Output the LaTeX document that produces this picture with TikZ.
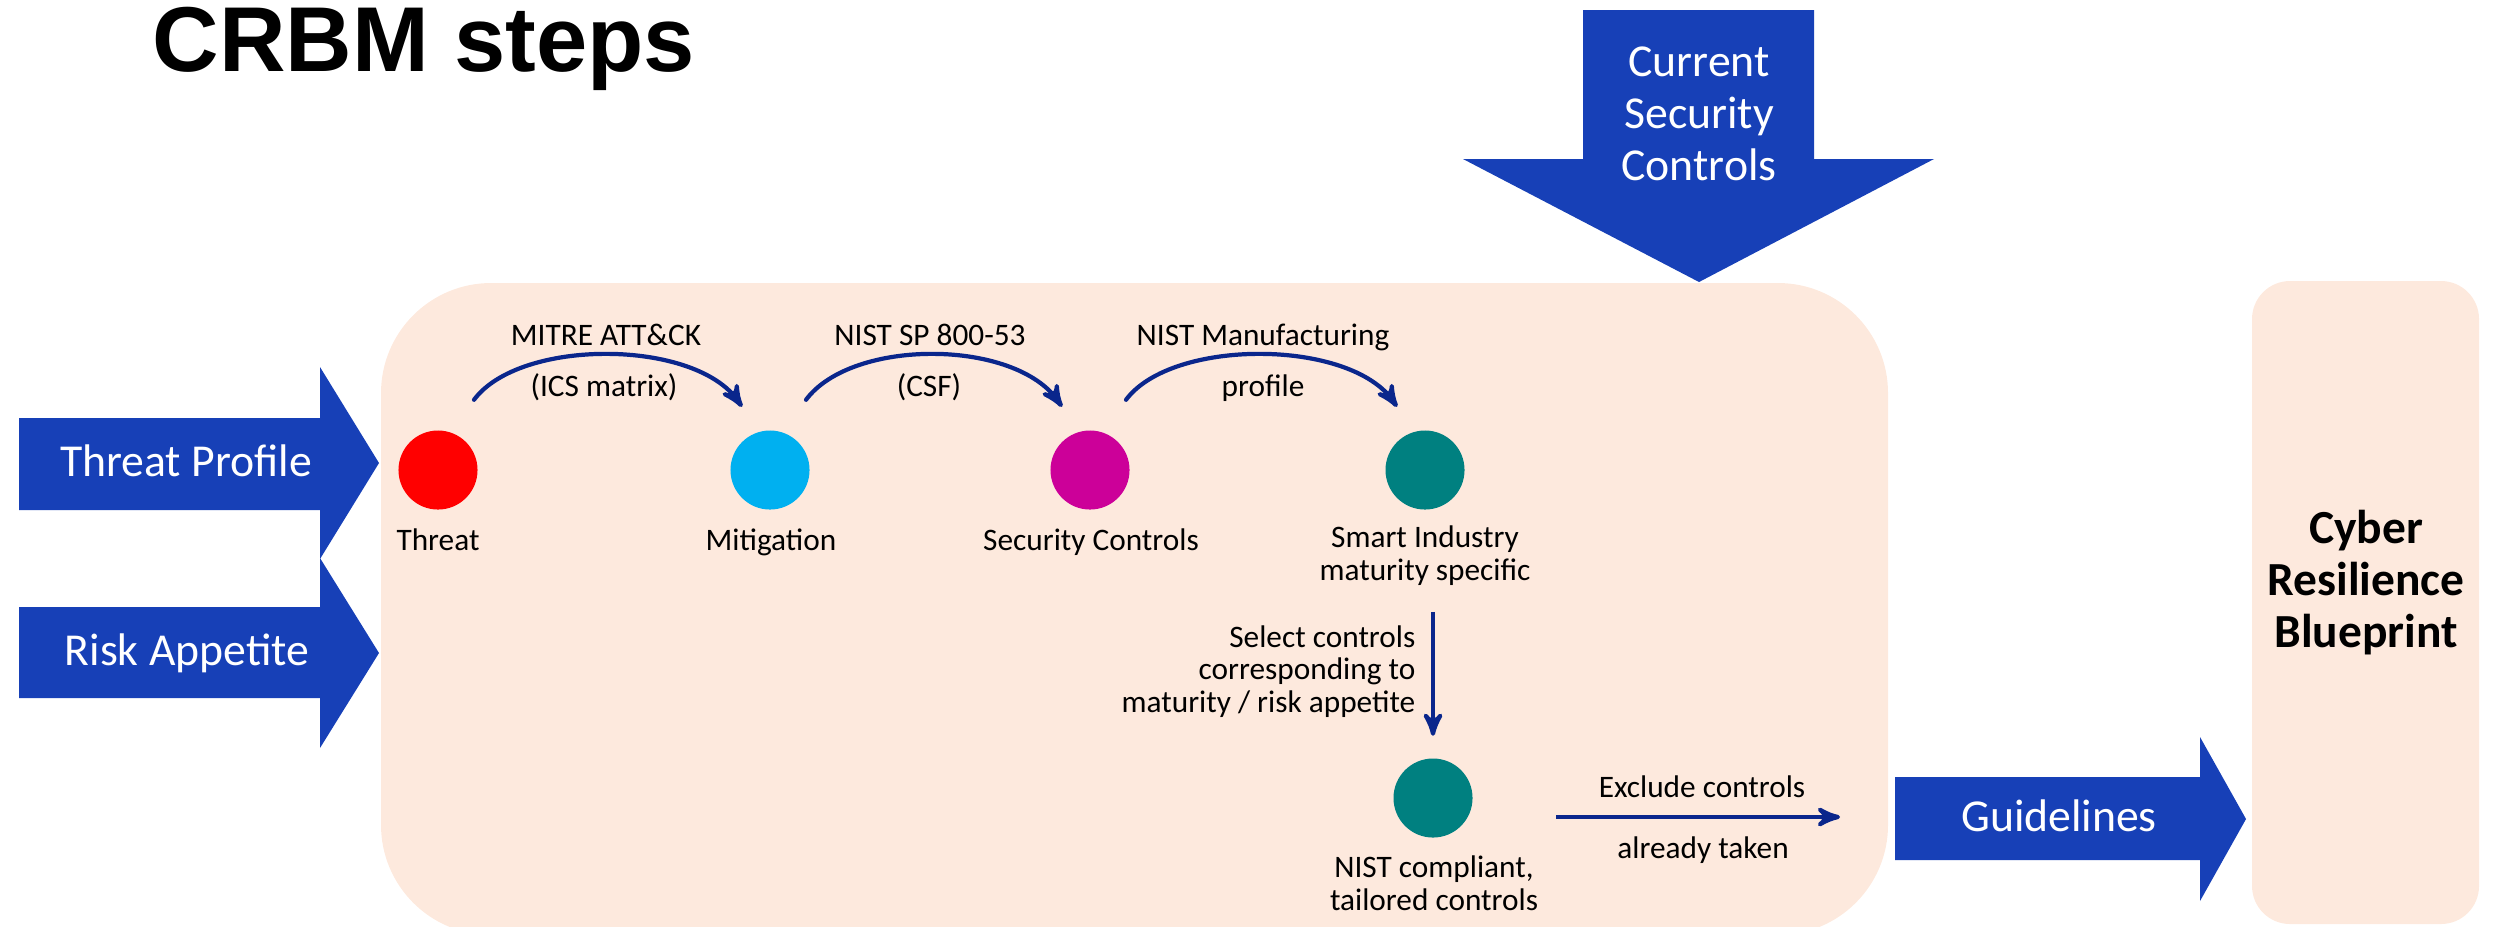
\documentclass[tikz,border=0pt]{standalone}
\usepackage{fontspec}
\setmainfont{Carlito}
\newfontfamily\titlefont{Liberation Sans}
\usetikzlibrary{arrows,positioning}
\tikzset{>=stealth'}
\definecolor{ingblue}{RGB}{23,64,183}
\definecolor{navy}{RGB}{10,38,140}
\definecolor{peach}{RGB}{253,233,221}
\definecolor{thrred}{RGB}{255,0,0}
\definecolor{mitcyan}{RGB}{0,176,240}
\definecolor{secmag}{RGB}{204,0,153}
\definecolor{smteal}{RGB}{0,128,128}
\tikzset{
  stepdot/.style={circle,minimum size=0.79cm,inner sep=0pt},
  lbl/.style={font=\fontsize{8.9}{9.2}\selectfont,inner sep=0pt,align=center},
  bigtxt/.style={text=white,font=\fontsize{13}{14.65}\selectfont,inner sep=0pt,align=center},
  flow/.style={draw=navy,line width=1.2pt,->},
}

\begin{document}
\begin{tikzpicture}[x=0.01cm,y=-0.01cm]
\useasboundingbox (0,0) rectangle (2501,926);
% title:
 \node[anchor=base west,inner sep=0pt,font=\titlefont\bfseries\fontsize{26.2}{30}\selectfont] (title) at (152,71) {CRBM steps};
% panels:
 \fill[peach,rounded corners=1.1cm] (381,283) rectangle (1888,935);
 \fill[peach,rounded corners=0.38cm] (2252,281) rectangle (2479,924);
 \node[lbl,font=\bfseries\fontsize{13.5}{14.65}\selectfont,anchor=base] (crb) at (2366,647) {Cyber\\Resilience\\Blueprint};
% block arrows:
 \fill[ingblue] (1583,10) -- (1814,10) -- (1814,159) -- (1934,159) -- (1699,282) -- (1463,159) -- (1583,159) -- cycle;
 \fill[ingblue] (19,418) -- (320,418) -- (320,367) -- (379,463) -- (320,559) -- (320,510) -- (19,510) -- cycle;
 \fill[ingblue] (19,607) -- (320,607) -- (320,558) -- (379,653) -- (320,748) -- (320,698) -- (19,698) -- cycle;
 \fill[ingblue] (1895,777) -- (2200,777) -- (2200,737) -- (2246,819) -- (2200,901) -- (2200,860) -- (1895,860) -- cycle;
 \node[bigtxt,anchor=base] (cur) at (1699,180) {Current\\Security\\Controls};
 \node[bigtxt,anchor=base] (tp) at (186,476) {Threat Profile};
 \node[bigtxt,anchor=base] (ra) at (187,665) {Risk Appetite};
 \node[bigtxt,anchor=base] (gl) at (2059,831) {Guidelines};
% steps:
 \node[stepdot,fill=thrred] (thr) at (438,470) {};
 \node[stepdot,fill=mitcyan] (mit) at (770,470) {};
 \node[stepdot,fill=secmag] (sec) at (1090,470) {};
 \node[stepdot,fill=smteal] (smi) at (1425,470) {};
 \node[stepdot,fill=smteal] (ctl) at (1433,798) {};
 \node[lbl,anchor=base] (thrlbl) at (438,550) {Threat};
 \node[lbl,anchor=base] (mitlbl) at (771,550) {Mitigation};
 \node[lbl,anchor=base] (seclbl) at (1091,550) {Security Controls};
 \node[lbl,anchor=base] (smilbl) at (1425,580) {Smart Industry\\maturity specific};
 \node[lbl,anchor=base] (ctllbl) at (1434,910) {NIST compliant,\\tailored controls};
% frameworks:
 \node[lbl,anchor=base] (f1) at (606,345) {MITRE ATT\&CK};
 \node[lbl,anchor=base] (f1b) at (604,396) {(ICS matrix)};
 \node[lbl,anchor=base] (f2) at (930,345) {NIST SP 800-53};
 \node[lbl,anchor=base] (f2b) at (929,396) {(CSF)};
 \node[lbl,anchor=base] (f3) at (1263,345) {NIST Manufacturing};
 \node[lbl,anchor=base] (f3b) at (1263,396) {profile};
 \foreach \a/\b in {thr/mit,mit/sec,sec/smi}
   \draw[flow,line cap=round] ([shift={(36,-30)}]\a.north) .. controls +(46,-62) and +(-46,-68) .. ([shift={(-28,-23)}]\b.north);
% selection:
 \node[lbl,align=right,anchor=base east] (sel) at (1416,712) {Select controls\\corresponding to\\maturity / risk appetite};
 \draw[flow] ([yshift=-0.26cm]smilbl.south -| ctl.north) -- ([yshift=0.22cm]ctl.north);
 \coordinate (ex1) at (1556,817);
 \coordinate (ex2) at (1840,817);
 \draw[flow] (ex1) -- (ex2);
 \node[lbl,anchor=base] (exc) at (1702,797) {Exclude controls};
 \node[lbl,anchor=base] (exc2) at (1703,858) {already taken};
\end{tikzpicture}
\end{document}
